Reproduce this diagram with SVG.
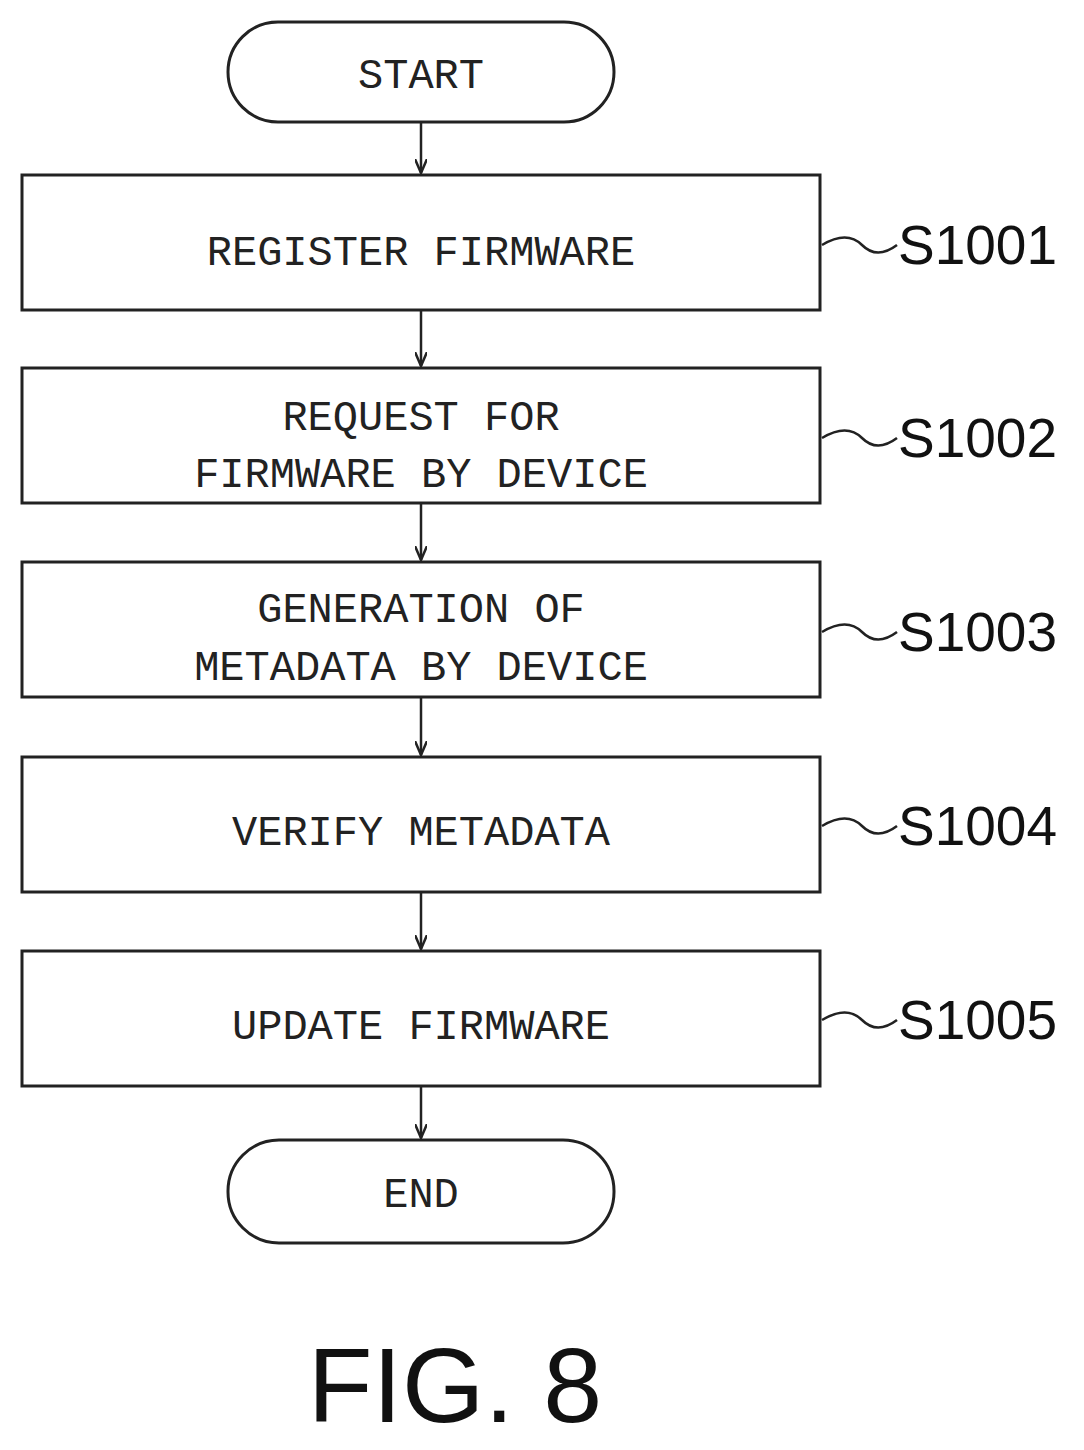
<svg xmlns="http://www.w3.org/2000/svg" width="1084" height="1450" viewBox="0 0 1084 1450">
<style>
.b{fill:#fff;stroke:#222;stroke-width:3}
.t{font-family:"Liberation Mono",monospace;font-size:42px;fill:#222;text-anchor:middle}
.l{font-family:"Liberation Sans",sans-serif;font-size:55px;fill:#111}
.c{stroke:#222;stroke-width:2.5;fill:none}
</style>
<defs><marker id="a" markerWidth="16" markerHeight="12" refX="14" refY="6" orient="auto" markerUnits="userSpaceOnUse"><path d="M0,0 L14,6 L0,12" fill="none" stroke="#222" stroke-width="2.5"/></marker></defs>
<rect width="1084" height="1450" fill="#fff"/>
<g id="start"><rect class="b" x="228" y="22" width="386" height="100" rx="50"/><text class="t" x="421" y="88">START</text></g>
<g id="s1001"><rect class="b" x="22" y="175" width="798" height="135"/><text class="t" x="421" y="265">REGISTER FIRMWARE</text><path class="c" d="M822,245 q25,-15 40,0 t35,0"/><text class="l" x="898" y="264">S1001</text></g>
<g id="s1002"><rect class="b" x="22" y="368" width="798" height="135"/><text class="t" x="421" y="430">REQUEST FOR</text><text class="t" x="421" y="487">FIRMWARE BY DEVICE</text><path class="c" d="M822,438 q25,-15 40,0 t35,0"/><text class="l" x="898" y="457">S1002</text></g>
<g id="s1003"><rect class="b" x="22" y="562" width="798" height="135"/><text class="t" x="421" y="622">GENERATION OF</text><text class="t" x="421" y="680">METADATA BY DEVICE</text><path class="c" d="M822,632 q25,-15 40,0 t35,0"/><text class="l" x="898" y="651">S1003</text></g>
<g id="s1004"><rect class="b" x="22" y="757" width="798" height="135"/><text class="t" x="421" y="845">VERIFY METADATA</text><path class="c" d="M822,826 q25,-15 40,0 t35,0"/><text class="l" x="898" y="845">S1004</text></g>
<g id="s1005"><rect class="b" x="22" y="951" width="798" height="135"/><text class="t" x="421" y="1039">UPDATE FIRMWARE</text><path class="c" d="M822,1020 q25,-15 40,0 t35,0"/><text class="l" x="898" y="1039">S1005</text></g>
<g id="end"><rect class="b" x="228" y="1140" width="386" height="103" rx="51"/><text class="t" x="421" y="1207">END</text></g>
<g id="connectors">
<line class="c" x1="421" y1="122" x2="421" y2="173" marker-end="url(#a)"/>
<line class="c" x1="421" y1="310" x2="421" y2="366" marker-end="url(#a)"/>
<line class="c" x1="421" y1="503" x2="421" y2="560" marker-end="url(#a)"/>
<line class="c" x1="421" y1="697" x2="421" y2="755" marker-end="url(#a)"/>
<line class="c" x1="421" y1="892" x2="421" y2="949" marker-end="url(#a)"/>
<line class="c" x1="421" y1="1086" x2="421" y2="1138" marker-end="url(#a)"/>
</g>
<text x="455" y="1422" font-family="Liberation Sans,sans-serif" font-size="106" fill="#111" text-anchor="middle">FIG. 8</text>
</svg>
